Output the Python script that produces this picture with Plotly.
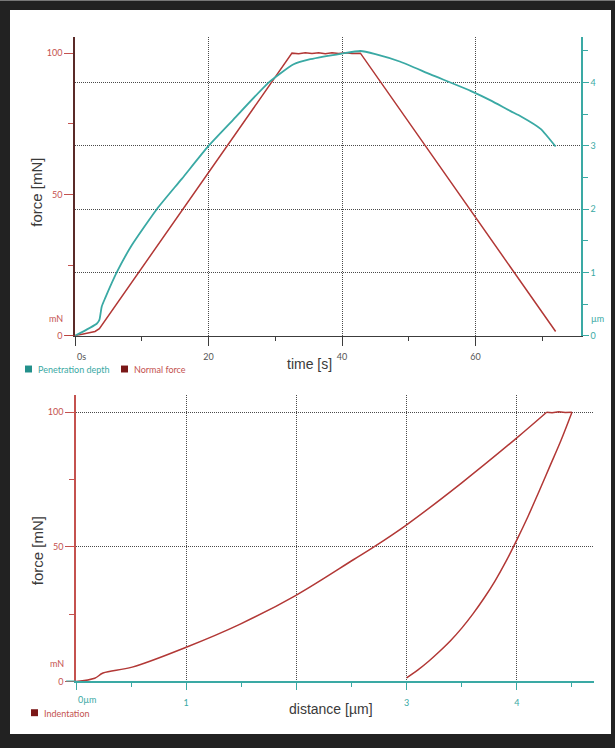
import plotly.graph_objects as go

# ---- time-resolved test: penetration depth (µm) and normal force (mN) ----
depth_time = [0, 3.25, 3.65, 4.0, 4.5, 6.25, 8.5, 12.25, 16.0, 20.0, 23.75, 29.0,
              32.75, 35.25, 40.0, 42.75, 45.0, 48.75, 53.25, 59.25, 62.25, 65.25,
              66.75, 69.75, 72.0]
penetration_depth = [0, 0.19, 0.25, 0.46, 0.59, 1.0, 1.43, 2.0, 2.48, 3.0, 3.42, 4.0,
                     4.29, 4.37, 4.46, 4.50, 4.45, 4.33, 4.13, 3.87, 3.72, 3.55,
                     3.47, 3.27, 2.99]

force_time = [0, 3.0, 3.65, 32.5, 33.5, 34.5, 35.5, 36.5, 37.5, 38.5, 39.5, 40.5,
              41.5, 42.75, 72.0]
normal_force = [0, 1.5, 2.5, 100, 99.8, 100.1, 99.9, 100.1, 99.8, 100.1, 99.9, 100.1,
                99.9, 100, 1.5]

# ---- force vs. indentation depth: loading branch, hold, unloading branch ----
load_depth = [0, 0.17, 0.245, 0.51, 1.0, 1.49, 2.0, 2.52, 2.70, 3.0, 3.5, 4.0, 4.27]
load_force = [0, 1.2, 3.1, 5.3, 12.7, 21.3, 32.1, 45.3, 49.9, 58.2, 73.8, 90.5, 100]
hold_depth = [4.27, 4.32, 4.38, 4.44, 4.50]
hold_force = [100, 99.8, 100.2, 99.9, 100]
unload_depth = [4.5, 4.4, 4.3, 4.2, 4.1, 4.0, 3.9, 3.8, 3.7, 3.6, 3.5, 3.4, 3.3,
                3.2, 3.1, 3.0]
unload_force = [100, 89.5, 80.0, 70.5, 61.2, 52.6, 44.5, 37.2, 30.8, 25.0, 19.8,
                15.2, 11.2, 7.5, 4.2, 1.35]

time_ticks = [0, 20, 40, 60]
time_ticktext = ["", "20", "40", "60"]
time_minor = [10, 30, 50, 70]
force_ticks = [0, 50, 100]
force_minor = [25, 75]
depth_ticks = [0, 1, 2, 3, 4]
depth_ticktext = ["0", "1", "2", "3", "4"]
depth_minor = [0.5, 1.5, 2.5, 3.5, 4.5]
dist_ticks = [0, 1, 2, 3, 4]
dist_ticktext = ["", "1", "", "3", "4"]
dist_minor = [0.5, 1.5, 2.5, 3.5, 4.5]

W, H = 615, 748
TEAL = "#3aa9a4"
TEAL_DARK = "#23908b"
RED = "#b23836"
RED_LIGHT = "#c4524f"
RED_DARK = "#7a1717"
AXIS_DARK = "#5a2a28"
GRID = "#4a4a4a"
GRID_DASH = "1px,1px"
SMALL = dict(family="Lato, Open Sans, sans-serif", size=9)
TITLE = dict(family="Liberation Sans, Arial, sans-serif", size=14, color="#3a3a3a")


def px_x(v):
    return v / W


def px_y(v):
    return 1 - v / H


fig = go.Figure()

fig.add_trace(go.Scatter(x=force_time, y=normal_force, mode="lines",
                         line=dict(color=RED, width=1.5), xaxis="x", yaxis="y",
                         name="Normal force"))
fig.add_trace(go.Scatter(x=depth_time, y=penetration_depth, mode="lines",
                         line=dict(color=TEAL, width=1.8, shape="spline",
                                   smoothing=0.5),
                         xaxis="x", yaxis="y2", name="Penetration depth"))
for xs, ys, shape in [(load_depth, load_force, "spline"),
                      (hold_depth, hold_force, "linear"),
                      (unload_depth, unload_force, "spline")]:
    fig.add_trace(go.Scatter(x=xs, y=ys, mode="lines",
                             line=dict(color=RED, width=1.5, shape=shape),
                             xaxis="x3", yaxis="y3", name="Indentation"))

top_x = [px_x(75), px_x(581)]
top_y = [px_y(338), px_y(37)]
bot_x = [px_x(76), px_x(594)]
bot_y = [px_y(686), px_y(398)]

fig.update_layout(
    width=W, height=H,
    margin=dict(l=0, r=0, t=0, b=0),
    paper_bgcolor="#222222",
    plot_bgcolor="rgba(0,0,0,0)",
    showlegend=False,
    xaxis=dict(domain=top_x, anchor="y", range=[0, 75.8],
               showline=True, linecolor="#3c3c3c", linewidth=1.2,
               tickmode="array", tickvals=time_ticks, ticktext=time_ticktext,
               ticks="outside", ticklen=9, tickcolor="#3c3c3c", tickwidth=1,
               ticklabelstandoff=3,
               tickfont=dict(SMALL, color="#555555"),
               minor=dict(tickmode="array", tickvals=time_minor, ticklen=4,
                          tickcolor="#3c3c3c", showgrid=False),
               showgrid=True, gridcolor=GRID, griddash=GRID_DASH, gridwidth=1,
               zeroline=False),
    yaxis=dict(domain=top_y, anchor="x", range=[0, 105.8],
               showline=True, linecolor=AXIS_DARK, linewidth=1.5,
               tickmode="array", tickvals=force_ticks,
               ticks="outside", ticklen=9, tickcolor=RED_LIGHT, tickwidth=1,
               tickfont=dict(SMALL, color=RED_LIGHT),
               minor=dict(tickmode="array", tickvals=force_minor, ticklen=5,
                          tickcolor=RED_LIGHT, showgrid=False),
               showgrid=False, zeroline=False),
    yaxis2=dict(overlaying="y", side="right", anchor="x", range=[0, 4.725],
                showline=True, linecolor=TEAL, linewidth=1.5,
                tickmode="array", tickvals=depth_ticks, ticktext=depth_ticktext,
                ticks="outside", ticklen=6, tickcolor=TEAL, tickwidth=1,
                tickfont=dict(SMALL, color=TEAL),
                minor=dict(tickmode="array", tickvals=depth_minor, ticklen=5,
                           tickcolor=TEAL, showgrid=False),
                showgrid=True, gridcolor=GRID, griddash=GRID_DASH, gridwidth=1,
                zeroline=False),
    xaxis3=dict(domain=bot_x, anchor="y3", range=[0, 4.70],
                showline=True, linecolor=TEAL, linewidth=2,
                tickmode="array", tickvals=dist_ticks, ticktext=dist_ticktext,
                ticks="outside", ticklen=7, tickcolor=TEAL, tickwidth=1,
                ticklabelstandoff=5,
                tickfont=dict(SMALL, color=TEAL),
                minor=dict(tickmode="array", tickvals=dist_minor, ticklen=4,
                           tickcolor=TEAL, showgrid=False),
                showgrid=True, gridcolor=GRID, griddash=GRID_DASH, gridwidth=1,
                zeroline=False),
    yaxis3=dict(domain=bot_y, anchor="x3", range=[0, 106.3],
                showline=True, linecolor=RED_LIGHT, linewidth=1.5,
                tickmode="array", tickvals=force_ticks,
                ticks="outside", ticklen=9, tickcolor=RED_LIGHT, tickwidth=1,
                tickfont=dict(SMALL, color=RED_LIGHT),
                minor=dict(tickmode="array", tickvals=force_minor, ticklen=5,
                           tickcolor=RED_LIGHT, showgrid=False),
                showgrid=True, gridcolor=GRID, griddash=GRID_DASH, gridwidth=1,
                zeroline=False),
)

# white page inside the dark frame
shapes = [
    dict(type="rect", xref="paper", yref="paper", layer="below",
         x0=px_x(10), x1=px_x(611), y0=px_y(739), y1=px_y(10),
         fillcolor="white", line=dict(width=0)),
    dict(type="line", xref="paper", yref="paper", layer="below",
         x0=0, x1=1, y0=px_y(0.5), y1=px_y(0.5),
         line=dict(color="#7a7a7a", width=1)),
    # short lead-in of the baselines left of the vertical axes
    dict(type="line", xref="x domain", yref="y", x0=-0.02, x1=0, y0=0, y1=0,
         line=dict(color=RED, width=1.2)),
    dict(type="line", xref="x3 domain", yref="y3", x0=-0.019, x1=0, y0=0, y1=0,
         line=dict(color=TEAL, width=2)),
]

# legend swatches
for x0, y0, col in [(25, 368, TEAL_DARK), (121, 368, RED_DARK), (31, 714, RED_DARK)]:
    shapes.append(dict(type="rect", xref="paper", yref="paper",
                       x0=px_x(x0), x1=px_x(x0 + 7), y0=px_y(y0 + 7), y1=px_y(y0),
                       fillcolor=col, line=dict(width=0)))

fig.update_layout(shapes=shapes)

ann = []


def text(x, y, s, color, xref="paper", yref="paper", xanchor="left",
         yanchor="middle", font=None, **kw):
    f = dict(SMALL, color=color) if font is None else font
    ann.append(dict(x=x, y=y, xref=xref, yref=yref, text=s, showarrow=False,
                    xanchor=xanchor, yanchor=yanchor, font=f, **kw))


# legends
text(px_x(36), px_y(372), "Penetration depth", TEAL)
text(px_x(132), px_y(372), "Normal force", RED_LIGHT)
text(px_x(42), px_y(718), "Indentation", RED_LIGHT)

# zero labels and unit labels
text(0, 0, "0s", "#555555", xref="x", yref="y", yanchor="top", yshift=-13)
text(0, 0, "0µm", TEAL, xref="x3", yref="y3", yanchor="top", yshift=-11)
text(px_x(65), px_y(321), "mN", RED_LIGHT, xanchor="right")
text(px_x(66), px_y(668), "mN", RED_LIGHT, xanchor="right")
text(px_x(589), px_y(321), "µm", TEAL)

# axis titles
text(px_x(37), px_y(194), "force [mN]", "#3a3a3a", xanchor="center",
     font=dict(TITLE, size=15), textangle=-90)
text(px_x(37), px_y(555), "force [mN]", "#3a3a3a", xanchor="center",
     font=dict(TITLE, size=15), textangle=-90)
text(px_x(309), px_y(366), "time [s]", "#3a3a3a", xanchor="center", font=TITLE)
text(px_x(331), px_y(714), "distance [µm]", "#3a3a3a", xanchor="center", font=TITLE)

fig.update_layout(annotations=ann)

fig.write_html("out.html")
